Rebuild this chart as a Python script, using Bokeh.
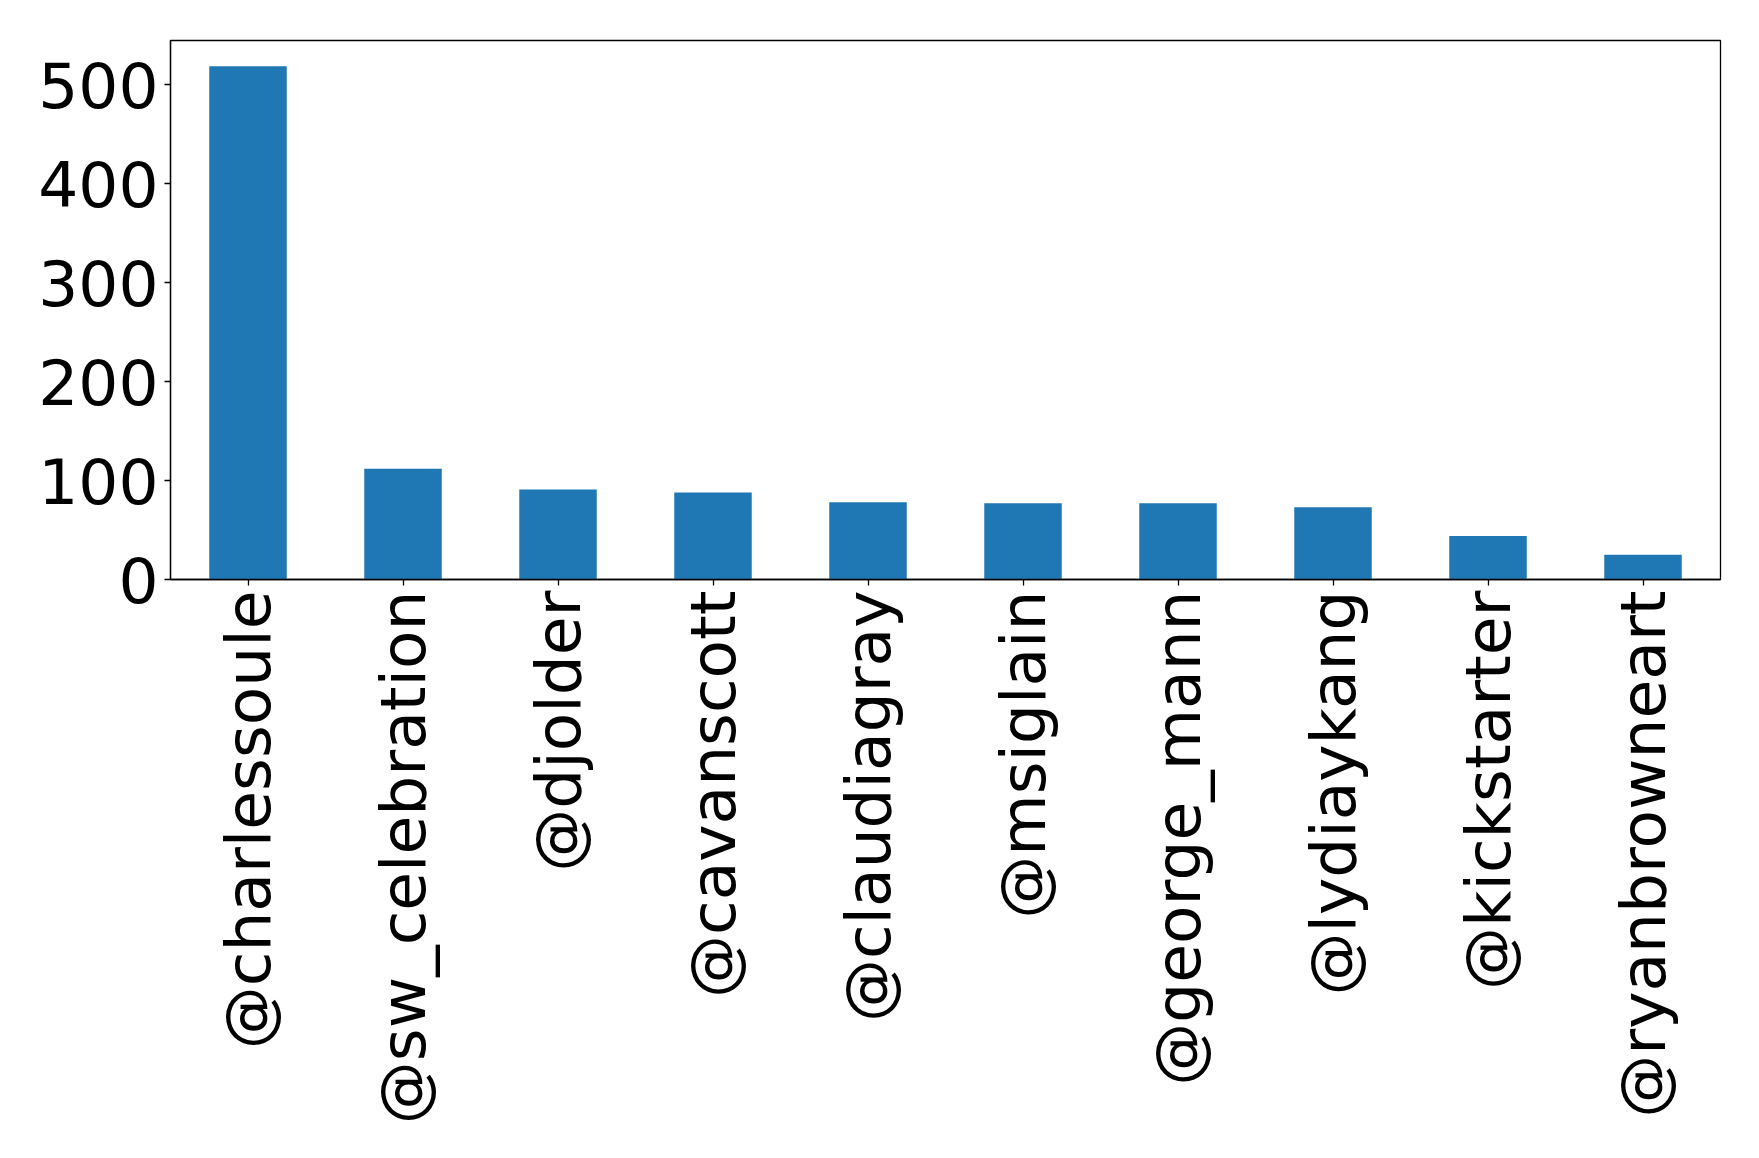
import math
from bokeh.plotting import figure
from bokeh.models import ColumnDataSource, Range1d, FixedTicker
from bokeh.embed import file_html
from bokeh.resources import INLINE

users = ["@charlessoule", "@sw_celebration", "@djolder", "@cavanscott",
         "@claudiagray", "@msiglain", "@george_mann", "@lydiaykang",
         "@kickstarter", "@ryanbrowneart"]
counts = [519, 112, 91, 88, 78, 77, 77, 73, 44, 25]
y_ticks = [0, 100, 200, 300, 400, 500]

source = ColumnDataSource(data=dict(user=users, count=counts))

p = figure(x_range=users, y_range=Range1d(0, max(counts) * 1.05),
           width=1759, height=1158, output_backend="svg", toolbar_location=None,
           min_border_left=170, min_border_right=39, min_border_top=40,
           min_border_bottom=579)

p.vbar(x="user", top="count", width=0.5, source=source,
       fill_color="#1f77b4", line_color=None)

p.xgrid.visible = False
p.ygrid.visible = False
p.outline_line_color = "black"
p.outline_line_width = 1.3
p.outline_line_alpha = 1.0
p.background_fill_color = "white"
p.border_fill_color = "white"

p.yaxis.ticker = FixedTicker(ticks=y_ticks)
for ax in (p.xaxis[0], p.yaxis[0]):
    ax.axis_line_color = "black"
    ax.axis_line_width = 1.3
    ax.major_tick_line_color = "black"
    ax.major_tick_line_width = 1.3
    ax.major_tick_out = 6
    ax.major_tick_in = 0
    ax.minor_tick_line_color = None
    ax.major_label_text_font = "DejaVu Sans"
    ax.major_label_text_font_size = "63px"
    ax.major_label_text_color = "black"

p.yaxis.major_label_standoff = 6
p.xaxis.major_label_standoff = 5
p.xaxis.major_label_orientation = math.pi / 2

open("out.html", "w").write(file_html(p, INLINE))
